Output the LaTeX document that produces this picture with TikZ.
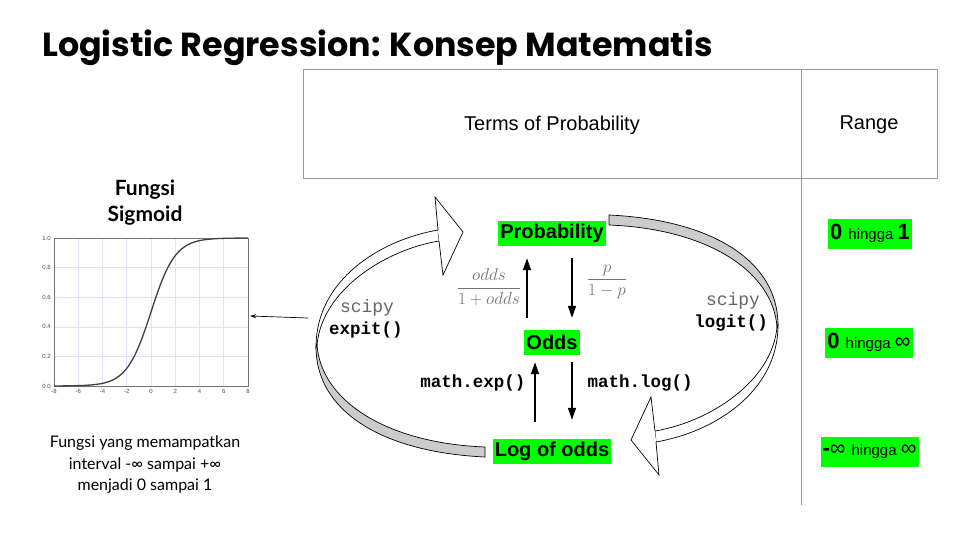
\documentclass[tikz,border=0pt]{standalone}
\usepackage{fontspec}
\setmainfont{Liberation Sans}
\setmonofont{Liberation Mono}
\newfontfamily\titlefont{Poppins}
\newfontfamily\notefont{Lato}
\usetikzlibrary{arrows.meta}

\tikzset{
	term/.style={fill=green, font=\bfseries\fontsize{20}{22}\selectfont, inner xsep=2pt, inner ysep=0pt, minimum height=25pt},
	rangebox/.style={fill=green, inner xsep=2pt, inner ysep=0pt, minimum height=30pt},
	conv/.style={line width=1.5pt, -{Triangle[length=12pt,width=8pt]}},
	codelbl/.style={font=\ttfamily\bfseries\fontsize{17.5}{20}\selectfont},
	pylbl/.style={font=\ttfamily\fontsize{18}{20}\selectfont, text=black!60},
	fraclbl/.style={text=black!55, font=\fontsize{17}{19}\selectfont},
	tablerule/.style={draw=black!40, line width=0.8pt},
	gridline/.style={draw=blue!12, line width=0.6pt},
	ticklbl/.style={font=\fontsize{6}{7}\selectfont, text=black!70, inner sep=1pt},
	ribbon/.style={line width=0.7pt},
}

% curved band arrow, drawn on the left side; rotate it for the right one
\newcommand{\ribbonarrow}{%
	\filldraw[ribbon, fill=black!20] (316,347) .. controls (316,410) and (380,452) .. (485,457)
		-- (485,447) .. controls (385,443) and (321,400) .. (317,345) -- cycle;
	\filldraw[ribbon, fill=white] (316,347) .. controls (316,280) and (380,240) .. (438,230)
		-- (439,241) .. controls (385,250) and (322,290) .. (317,345) -- cycle;
	\filldraw[ribbon, fill=white] (438,230) -- (435,197) -- (463,232) -- (443,275) -- (439,241);
}

\begin{document}
\begin{tikzpicture}[x=1pt, y=-1pt]
	\useasboundingbox[fill=white] (0,0) rectangle (960,540);
	
	% title
	\node[anchor=base west, inner sep=0pt, font=\titlefont\bfseries\fontsize{33.3}{36}\selectfont] (title) at (42,57) {Logistic Regression: Konsep Matematis};
	
	% table
	\draw[tablerule] (303,69) rectangle (937,178);
	\draw[tablerule] (801,69) -- (801,505);
	\node[font=\fontsize{20}{22}\selectfont] (hterms) at (552,125) {Terms of Probability};
	\node[font=\fontsize{20}{22}\selectfont] (hrange) at (869,125) {Range};
	
	% sigmoid plot
	\foreach \gx in {-6,-4,...,6}
		\draw[gridline] ({151+12.125*\gx},238) -- ({151+12.125*\gx},386);
	\foreach \gy in {0.2,0.4,0.6,0.8}
		\draw[gridline] (54,{386-148*\gy}) -- (248,{386-148*\gy});
	\draw[black!55, line width=0.8pt] (54,238) rectangle (248,386);
	\foreach \gx in {-8,-6,...,8}
		\node[ticklbl, anchor=north] at ({151+12.125*\gx},388) {\gx};
	\foreach \gy in {0.0,0.2,0.4,0.6,0.8,1.0}
		\node[ticklbl, anchor=east] at (52,{386-148*\gy}) {\gy};
	\draw[black!75, line width=1.3pt, domain=-8:8, samples=100, smooth] plot ({151+12.125*\x},{386-148/(1+exp(-\x))});
	
	\node[align=center, font=\notefont\bfseries\fontsize{21}{26}\selectfont] (sigtitle) at (145,203) {Fungsi\\Sigmoid};
	\node[align=center, font=\notefont\fontsize{16}{21.5}\selectfont] (signote) at (145,465) {Fungsi yang memampatkan\\interval -∞ sampai +∞\\menjadi 0 sampai 1};
	
	\coordinate (sigR) at (250,316);
	\coordinate (loopL) at (308,318);
	\draw[line width=0.7pt, -{Stealth[length=6pt,width=4pt]}] (loopL) -- (sigR);
	
	% loop arrows
	\ribbonarrow
	\begin{scope}[rotate around={180:(547,336)}]
		\ribbonarrow
	\end{scope}
	
	% terms
	\node[term] (prob) at (552,233.5) {Probability};
	\node[term] (odds) at (552,342.5) {Odds};
	\node[term] (logodds) at (552,451.5) {Log of odds};
	
	\draw[conv, shorten <=12pt, shorten >=12pt] ([xshift=-25pt]odds.north) -- ([xshift=-25pt]prob.south);
	\draw[conv, shorten <=12pt, shorten >=12pt] ([xshift=20pt]prob.south) -- ([xshift=20pt]odds.north);
	\draw[conv, shorten <=17pt, shorten >=7pt] ([xshift=-17pt]logodds.north) -- ([xshift=-17pt]odds.south);
	\draw[conv, shorten <=7pt, shorten >=19pt] ([xshift=20pt]odds.south) -- ([xshift=20pt]logodds.north);
	
	\node[fraclbl] (fodds) at (489,287) {$\displaystyle\frac{odds}{1+odds}$};
	\node[fraclbl] (fprob) at (607,282) {$\displaystyle\frac{p}{1-p}$};
	\node[codelbl, anchor=east] (mexp) at (529,383) {math.exp()};
	\node[codelbl, anchor=west] (mlog) at (584,383) {math.log()};
	
	\node[pylbl] (scipyL) at (367,308) {scipy};
	\node[codelbl] (expit) at (366,330) {expit()};
	\node[pylbl] (scipyR) at (733,301) {scipy};
	\node[codelbl] (logit) at (731,323) {logit()};
	
	% ranges
	\node[rangebox] (r1) at (870,233.5) {\fontsize{22}{24}\selectfont\bfseries 0 \fontsize{15}{17}\selectfont\mdseries hingga \fontsize{22}{24}\selectfont\bfseries 1};
	\node[rangebox] (r2) at (869,342.5) {\fontsize{22}{24}\selectfont\bfseries 0 \fontsize{15}{17}\selectfont\mdseries hingga \fontsize{22}{24}\selectfont ∞};
	\node[rangebox] (r3) at (869.5,451.5) {\fontsize{22}{24}\selectfont\bfseries -\mdseries∞ \fontsize{15}{17}\selectfont hingga \fontsize{22}{24}\selectfont ∞};
\end{tikzpicture}
\end{document}
